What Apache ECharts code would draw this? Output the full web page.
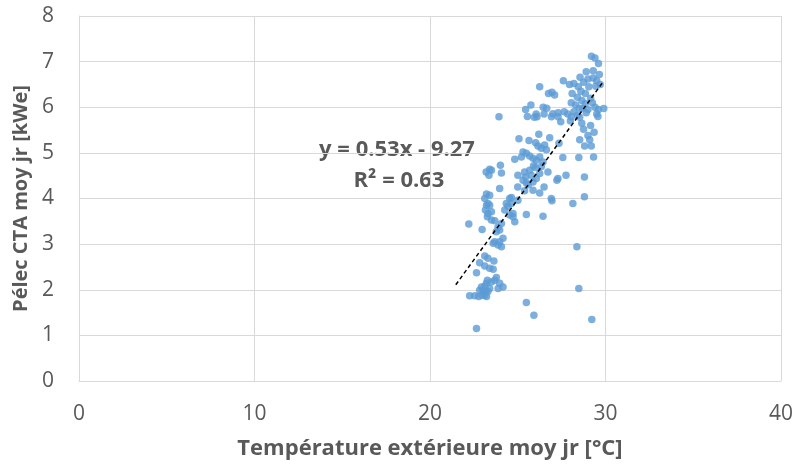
<!DOCTYPE html>
<html><head><meta charset="utf-8">
<script src="https://cdn.jsdelivr.net/npm/echarts@6/dist/echarts.min.js"></script>
<style>html,body{margin:0;padding:0;background:#fff}#c{width:796px;height:468px}</style>
</head><body><div id="c"></div>
<script>
const xTicks = [0, 10, 20, 30, 40];
const yTicks = [0, 1, 2, 3, 4, 5, 6, 7, 8];
const xTitle = 'Température extérieure moy jr [°C]';
const yTitle = 'Pélec CTA moy jr [kWe]';
const equationText = 'y = 0.53x - 9.27';
const r2Text = 'R² = 0.63';

const pointsHigh = [
[29.2,7.12],[29.4,7.08],[29.6,6.96],
[28.9,6.78],[29.3,6.8],[29.65,6.72],
[28.55,6.66],[28.75,6.55],[29.0,6.62],[29.3,6.64],[29.5,6.58],
[27.6,6.58],[27.95,6.5],[28.2,6.52],[28.45,6.45],[29.05,6.45],[29.45,6.46],[29.7,6.5],
[26.25,6.45],[26.95,6.33],[27.1,6.27],[26.75,6.3],
[28.4,6.22],[28.85,6.3],[29.15,6.2],[28.65,6.15],[28.85,6.08],[29.25,6.1],
[28.3,6.05],[28.5,5.98],[28.7,5.98],[29.0,5.95],[29.4,6.0],[29.6,5.95],[29.9,5.97],
[28.2,5.9],[28.9,5.88],[29.5,5.85],[28.4,5.82],[28.05,6.1],[28.6,6.35],[28.1,6.3],
[25.75,6.05],[25.45,5.95],[26.45,6.0],[26.65,5.98],[26.05,5.85],[26.5,5.85],[27.0,5.86],[27.3,5.88],[27.65,5.9],[27.85,5.85],
[25.95,5.78],[25.55,5.8],[23.93,5.79],
[26.1,5.79],[26.92,5.79],[27.3,5.79],[28.05,5.79],[28.53,5.78],[29.57,5.8],
[28.0,5.7],[27.45,5.68],[28.65,5.65],[29.15,5.6],[28.75,5.52],[29.35,5.45],[29.0,5.38]
];
const pointsMid = [
[26.2,5.41],[26.82,5.33],[25.64,5.27],[26.02,5.22],[26.15,5.15],[26.34,5.1],[26.53,5.17],[26.63,5.07],[25.07,5.31],
[27.35,5.21],[28.53,5.29],[29.1,5.29],[29.19,5.15],[28.81,5.15],
[25.3,5.02],[25.49,4.99],[25.21,4.91],[24.83,4.86],[25.68,4.93],[25.87,4.88],[26.06,4.84],[26.25,4.91],[26.44,4.8],
[27.57,4.9],[28.48,4.9],[29.32,4.91],
[23.4,4.64],[24.01,4.73],[24.07,4.56],[23.2,4.58],[23.5,4.62],[23.36,4.51],
[25.39,4.58],[25.68,4.62],[25.77,4.51],[25.45,4.47],[25.3,4.4],[25.49,4.34],[25.87,4.36],[26.06,4.44],[26.72,4.58],[26.25,4.55],
[25.01,4.51],[27.29,4.44],[27.75,4.51],[28.8,4.47],[27.23,4.4],
[23.97,4.22],[23.4,4.07],[24.64,4.02],[25.39,4.17],[25.87,4.18],[26.25,4.12],[26.91,4.0],[28.8,4.04],
[25.0,4.25],[25.6,4.3],[26.5,4.25],[26.0,4.68],[26.35,4.7],[25.9,4.72]
];
const pointsLow = [
[23.22,4.1],[23.12,4.0],[23.3,3.89],[23.22,3.85],[23.4,3.85],[23.16,3.75],[23.3,3.67],[23.5,3.71],[23.27,3.6],
[24.54,4.0],[24.35,3.89],[24.44,3.83],[24.64,3.89],[25.01,3.96],[24.26,3.75],[24.73,3.67],[24.54,3.64],[24.83,3.49],[25.49,3.65],[26.44,3.61],[24.73,3.6],
[22.21,3.44],[22.97,3.32],
[23.5,3.53],[23.69,3.51],[23.78,3.27],[23.97,3.31],[23.88,3.37],[24.07,3.45],
[23.6,3.02],[23.69,3.05],[23.97,3.05],[24.16,3.13],[23.88,2.98],[24.07,2.94],
[23.12,2.74],[23.3,2.69],[23.64,2.63],[22.83,2.59],[23.12,2.52],[23.4,2.47],[23.6,2.45],[22.65,2.37],
[23.78,2.27],[23.69,2.21],[23.5,2.17],[23.27,2.21],[23.22,2.14],[23.12,2.08],[22.93,2.06],[22.83,1.99],[23.02,1.99],[23.16,1.96],[23.3,1.96],[23.4,2.03],[22.97,1.88],[22.78,1.85],[22.55,1.87],[22.26,1.87],[23.22,1.85],[23.12,1.88],[24.16,2.06],[23.97,2.14],[23.88,2.03],
[25.49,1.72],[25.92,1.44],[22.65,1.15],
[28.37,2.94],[28.48,2.03],[29.22,1.35],
[26.95,3.95],[28.14,3.89]
];
const trendEnds = [[21.47, 2.11], [29.85, 6.55]];

const allPoints = pointsHigh.concat(pointsMid, pointsLow);
const FONT = '"Open Sans", sans-serif';
const chart = echarts.init(document.getElementById('c'), null, {renderer: 'canvas'});
chart.setOption({
  animation: false,
  backgroundColor: '#ffffff',
  grid: {left: 79, right: 14, top: 16, bottom: 87},
  xAxis: {
    type: 'value', min: xTicks[0], max: xTicks[xTicks.length - 1], interval: 10,
    axisLine: {show: true, lineStyle: {color: '#d9d9d9'}},
    axisTick: {show: false},
    splitLine: {show: true, lineStyle: {color: '#d9d9d9', width: 1}},
    axisLabel: {color: '#595959', fontSize: 21, fontFamily: FONT, margin: 23},
    name: xTitle, nameLocation: 'middle', nameGap: 57,
    nameTextStyle: {color: '#595959', fontSize: 22, fontWeight: 'bold', fontFamily: FONT}
  },
  yAxis: {
    type: 'value', min: yTicks[0], max: yTicks[yTicks.length - 1], interval: 1,
    axisLine: {show: true, lineStyle: {color: '#d9d9d9'}},
    axisTick: {show: false},
    splitLine: {show: true, lineStyle: {color: '#d9d9d9', width: 1}},
    axisLabel: {color: '#595959', fontSize: 21, fontFamily: FONT, margin: 25},
    name: yTitle, nameLocation: 'middle', nameGap: 44, nameRotate: 90,
    nameTextStyle: {color: '#595959', fontSize: 20, fontWeight: 'bold', fontFamily: FONT}
  },
  series: [
    {
      type: 'scatter', data: allPoints, symbol: 'circle', symbolSize: 7.5,
      itemStyle: {color: '#5b9bd5'}
    },
    {
      type: 'line', data: trendEnds, symbol: 'none', z: 5,
      lineStyle: {color: '#000000', width: 1.5, type: [4, 3]}
    }
  ],
  graphic: [
    {type: 'text', x: 397, y: 150, style: {text: equationText, fill: '#595959', font: 'bold 22px "Open Sans", sans-serif', textAlign: 'center', textVerticalAlign: 'middle'}},
    {type: 'text', x: 399, y: 181, style: {text: r2Text, fill: '#595959', font: 'bold 22px "Open Sans", sans-serif', textAlign: 'center', textVerticalAlign: 'middle'}}
  ]
});
</script></body></html>
